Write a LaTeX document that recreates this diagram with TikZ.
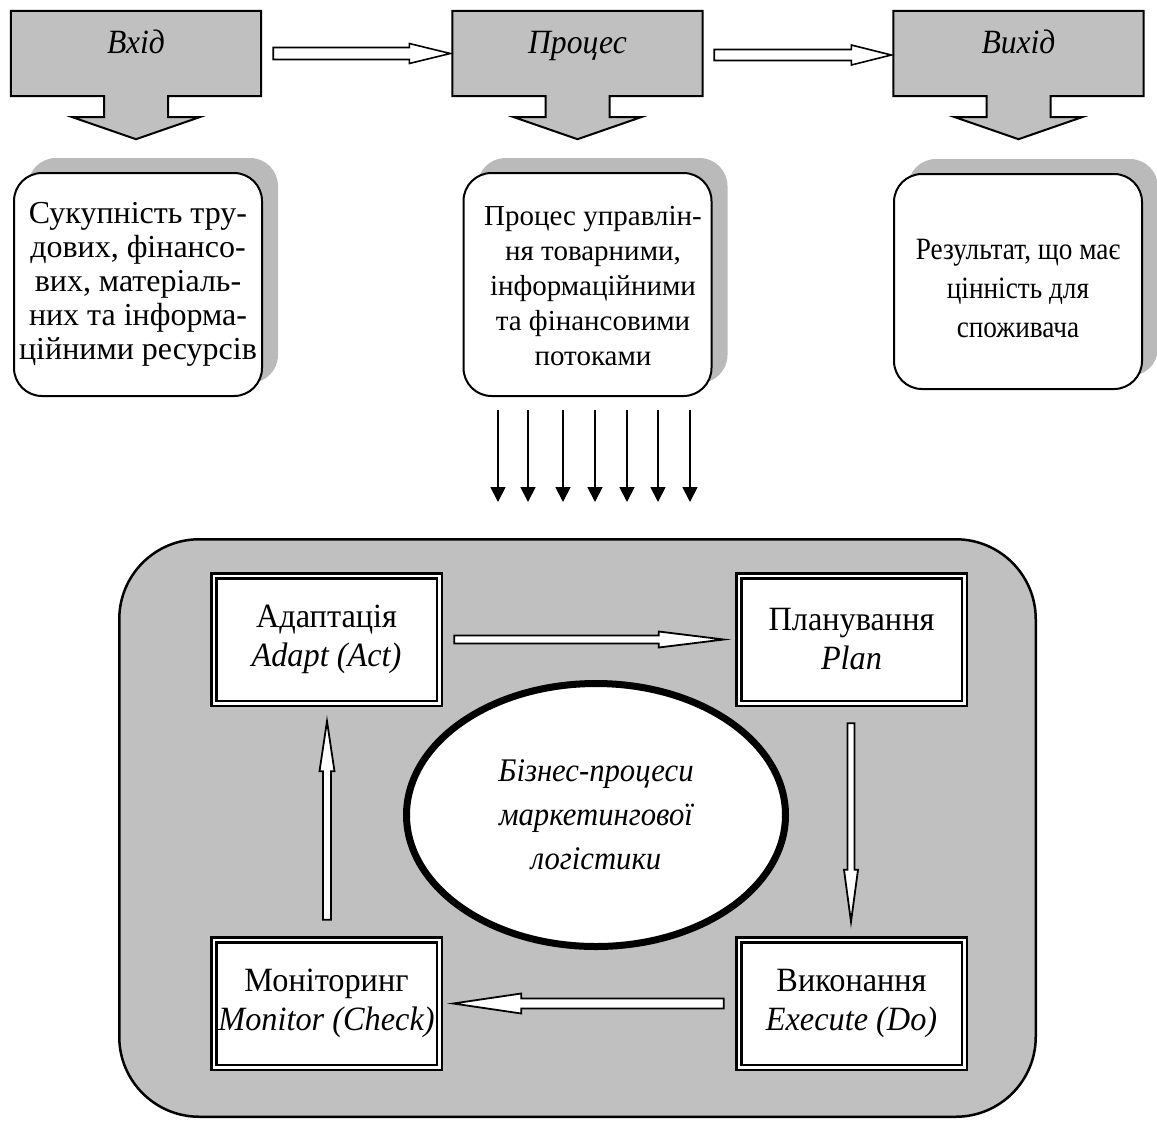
\documentclass[tikz,border=0pt]{standalone}
\usepackage{fontspec}
\setmainfont{Liberation Serif}
\newfontfamily\condA[FakeStretch=0.88]{Liberation Serif}
\newfontfamily\condB[FakeStretch=0.93]{Liberation Serif}
\newfontfamily\condC[FakeStretch=0.95]{Liberation Serif}
\usetikzlibrary{calc,shapes.geometric,arrows.meta}
\pgfdeclarelayer{bg}
\pgfsetlayers{bg,main}
\definecolor{boxgray}{RGB}{192,192,192}
\definecolor{shadowgray}{RGB}{186,186,186}
\definecolor{panelgray}{RGB}{192,192,192}

% #1 style, #2 from, #3 to, #4 shaft half width, #5 head half width, #6 head length
\newcommand\blockarrow[6]{%
  \coordinate (ba-h) at ($(#3)!#6!(#2)$);
  \draw[#1] ($(#2)!#4!90:(#3)$) -- ($(ba-h)!#4!90:(#3)$) -- ($(ba-h)!#5!90:(#3)$)
    -- (#3) -- ($(ba-h)!#5!-90:(#3)$) -- ($(ba-h)!#4!-90:(#3)$)
    -- ($(#2)!#4!-90:(#3)$) -- cycle;
}

\begin{document}
\begin{tikzpicture}[x=1pt,y=-1pt,
  topbox/.style={inner sep=0pt, minimum width=250pt, text height=42pt, text depth=43pt,
    font=\condB\itshape\fontsize{34}{38}\selectfont},
  topshape/.style={draw, line width=2pt, fill=boxgray, line join=miter},
  rbox/.style={draw, line width=2pt, rounded corners=28pt, fill=white, align=center,
    inner sep=0pt, minimum width=248pt},
  dbox/.style={draw, line width=2.5pt, double=white, double distance=2.5pt, fill=white,
    minimum width=225.5pt, minimum height=127.5pt, inner sep=0pt, align=center,
    font=\condC\fontsize{34}{39}\selectfont},
  toparrow/.style={draw, line width=1.6pt, fill=white, line join=miter},
  inarrow/.style={draw, line width=1.8pt, fill=white, line join=miter},
  thinarrow/.style={line width=1.8pt, -{Triangle[width=15pt,length=15pt]}},
]
\useasboundingbox (0,0) rectangle (1157,1120);

% ---------- top row ----------
\node[topbox] (in)   at (136,53.5)   {Вхід};
\node[topbox] (proc) at (577.5,53.5) {Процес};
\node[topbox] (out)  at (1018.5,53.5) {Вихід};

\begin{pgfonlayer}{bg}
\foreach \b in {in,proc,out}{
  \draw[topshape] (\b.north west) -- (\b.north east) -- (\b.south east)
    -- ($(\b.south)+(32,0)$) -- ($(\b.south)+(32,21)$) -- ($(\b.south)+(63.5,21)$)
    -- ($(\b.south)+(0,43)$) -- ($(\b.south)+(-63.5,21)$) -- ($(\b.south)+(-32,21)$)
    -- ($(\b.south)+(-32,0)$) -- (\b.south west) -- cycle;
}
\end{pgfonlayer}

\coordinate (a1s) at ($(in.east)+(12,0)$);
\coordinate (a1e) at ($(proc.west)+(-2,0)$);
\blockarrow{toparrow}{a1s}{a1e}{6pt}{10pt}{41pt}
\coordinate (a2s) at ($(proc.east)+(11.5,1.5)$);
\coordinate (a2e) at ($(out.west)+(-2,1.5)$);
\blockarrow{toparrow}{a2s}{a2e}{5.5pt}{10pt}{40pt}

% ---------- rounded boxes ----------
\node[rbox, minimum height=223pt, font=\fontsize{32}{34}\selectfont] (b1) at (138,284.5)
  {Сукупність тру-\\дових, фінансо-\\вих, матеріаль-\\них та інформа-\\ційними ресурсів};
\node[rbox, minimum height=223pt] (b2) at (587.5,284.5) {};
\node[align=center, inner sep=0pt, font=\fontsize{29}{35}\selectfont] (b2t) at (593,286)
  {Процес управлін-\\ня товарними,\\інформаційними\\та фінансовими\\потоками};
\node[rbox, minimum height=215pt] (b3) at (1018,281.5) {};
\node[align=center, inner sep=0pt, font=\condA\fontsize{31}{39}\selectfont] (b3t) at (1018,288)
  {Результат, що має\\цінність для\\споживача};

\begin{pgfonlayer}{bg}
\foreach \b in {b1,b2,b3}{
  \fill[shadowgray, rounded corners=28pt] ($(\b.south west)+(15,-14)$) rectangle ($(\b.north east)+(15,-14)$);
}
\end{pgfonlayer}

% ---------- seven arrows ----------
\foreach \x [count=\i] in {498,528,563,595,627,658,690}{
  \coordinate (s\i) at (\x,410);
  \coordinate (e\i) at (\x,502);
  \draw[thinarrow] (s\i) -- (e\i);
}

% ---------- panel ----------
\node[draw, line width=2.5pt, fill=panelgray, rounded corners=80pt, inner sep=0pt,
  minimum width=916.5pt, minimum height=577.5pt] (panel) at (577.5,828) {};

\node[dbox] (adapt) at (326.5,639.5) {Адаптація\\\textit{Adapt (Act)}};
\node[dbox] (plan)  at (851.5,639.5) {Планування\\\textit{Plan}};
\node[dbox] (exec)  at (851.5,1003.5) {Виконання\\\textit{Execute (Do)}};
\node[dbox] (mon)   at (326.5,1003.5) {Моніторинг\\\textit{Monitor (Check)}};

\node[draw, line width=7pt, ellipse, fill=white, inner sep=0pt,
  minimum width=379pt, minimum height=263pt, align=center,
  font=\condB\itshape\fontsize{33}{44}\selectfont] (bp) at (596,815)
  {Бізнес-процеси\\маркетингової\\логістики};

\coordinate (c1s) at ($(adapt.east)+(13.75,0)$);
\coordinate (c1e) at ($(plan.west)+(-13.75,0)$);
\blockarrow{inarrow}{c1s}{c1e}{4pt}{8pt}{65pt}
\coordinate (c2s) at ($(plan.south)+(-0.5,18.75)$);
\coordinate (c2e) at ($(exec.north)+(-0.5,-16.75)$);
\blockarrow{inarrow}{c2s}{c2e}{3.5pt}{7pt}{52pt}
\coordinate (c3s) at ($(exec.west)+(-13.75,0)$);
\coordinate (c3e) at ($(mon.east)+(12.75,0)$);
\blockarrow{inarrow}{c3s}{c3e}{5pt}{10pt}{68pt}
\coordinate (c4s) at ($(mon.north)+(0.5,-18.75)$);
\coordinate (c4e) at ($(adapt.south)+(0.5,16.75)$);
\blockarrow{inarrow}{c4s}{c4e}{4pt}{7.5pt}{50pt}

\end{tikzpicture}
\end{document}
